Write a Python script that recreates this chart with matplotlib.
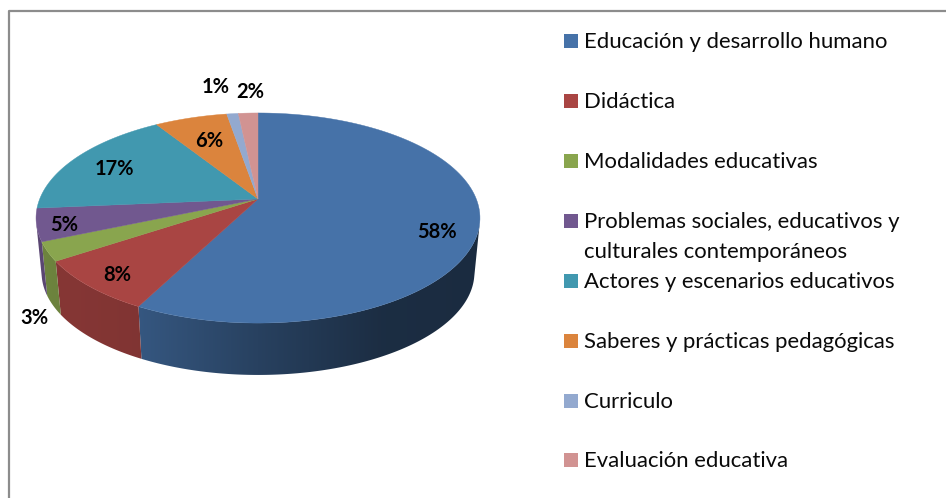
import numpy as np
import matplotlib
matplotlib.use('Agg')
import matplotlib.pyplot as plt
from matplotlib.patches import Rectangle, Polygon

categories = ['Educación y desarrollo humano', 'Didáctica', 'Modalidades educativas',
              'Problemas sociales, educativos y\nculturales contemporáneos',
              'Actores y escenarios educativos', 'Saberes y prácticas pedagógicas',
              'Curriculo', 'Evaluación educativa']
values = [57.6, 8.1, 2.9, 5.0, 17.4, 6.3, 1.0, 1.7]
colors = ['#4672A8', '#A94543', '#89A54E', '#71588F', '#4198AF', '#DB843D', '#93A9CF', '#D19392']

plt.rcParams['font.family'] = ['Lato', 'DejaVu Sans']

fig = plt.figure(figsize=(9.46, 4.98), dpi=100)
ax = fig.add_axes([0, 0, 1, 1])
ax.axis('off')

# frame of the chart, open at the bottom and right
ax.plot([9, 9, 946], [498, 10.5, 10.5], color='#8C8C8C', lw=1.6)

# pie geometry in pixels, perspective view of a disc
cx, cy = 258, 199
R, H, p = 218.3, 101.6, 0.181
depth, shrink = 55, 0.975


def top_point(t):
    u, v = np.sin(t), np.cos(t)
    w = 1 + p * v
    return cx + R * u / w, cy - H * v / w


def bottom_point(t):
    u, v = np.sin(t), np.cos(t)
    w = 1 + p * v
    return cx + shrink * R * u / w, cy + depth - shrink * H * v / w


edges = np.radians(np.cumsum([0] + values) * 3.6)
grad_x = np.linspace(30, 485, 256)
shade = np.interp(grad_x, [35, 140, 258, 380, 480], [0.80, 0.76, 0.57, 0.40, 0.38])

# side wall first, the top covers whatever is behind
for i, col in enumerate(colors):
    ts = np.linspace(edges[i], edges[i + 1], 300)
    xt, yt = top_point(ts)
    xb, yb = bottom_point(ts)
    # keep only the part of the wall that faces the viewer
    front = np.gradient(xt) * (yb - yt) - np.gradient(yt) * (xb - xt) < 0
    if front.sum() < 2:
        continue
    xt, yt, xb, yb = xt[front], yt[front], xb[front], yb[front]
    wall = Polygon(np.c_[np.r_[xt, xb[::-1]], np.r_[yt, yb[::-1]]], closed=True,
                   facecolor='none', edgecolor='none', transform=ax.transData)
    ax.add_patch(wall)
    base = np.array(matplotlib.colors.to_rgb(col))
    img = shade[None, :, None] * base[None, None, :]
    im = ax.imshow(img, extent=(30, 485, 390, 100), aspect='auto', interpolation='bilinear')
    im.set_clip_path(wall)

for i, col in enumerate(colors):
    ts = np.linspace(edges[i], edges[i + 1], 120)
    xs, ys = top_point(ts)
    ax.fill(np.r_[cx, xs], np.r_[cy, ys], color=col, lw=0.3)

# data labels
label_x = [437, 117, 34, 64, 114, 209, 216, 250]
label_y = [232, 275, 318, 225, 169, 141, 87, 92]
for v, lx, ly in zip(values, label_x, label_y):
    ax.text(lx, ly, f'{v:.0f}%', ha='center', va='center', fontsize=14.5, fontweight='bold', color='black')

# legend
legend_y = [41, 101, 161, 221, 281, 341, 401, 460]
for name, col, ly in zip(categories, colors, legend_y):
    ax.add_patch(Rectangle((564, ly - 7), 14, 14, facecolor=col, edgecolor='none'))
    ax.text(584, ly - 9, name, ha='left', va='top', fontsize=15.95, color='#0A0A0A', linespacing=1.6)

ax.set_xlim(0, 946)
ax.set_ylim(498, 0)

fig.savefig('out.png', dpi=100)
